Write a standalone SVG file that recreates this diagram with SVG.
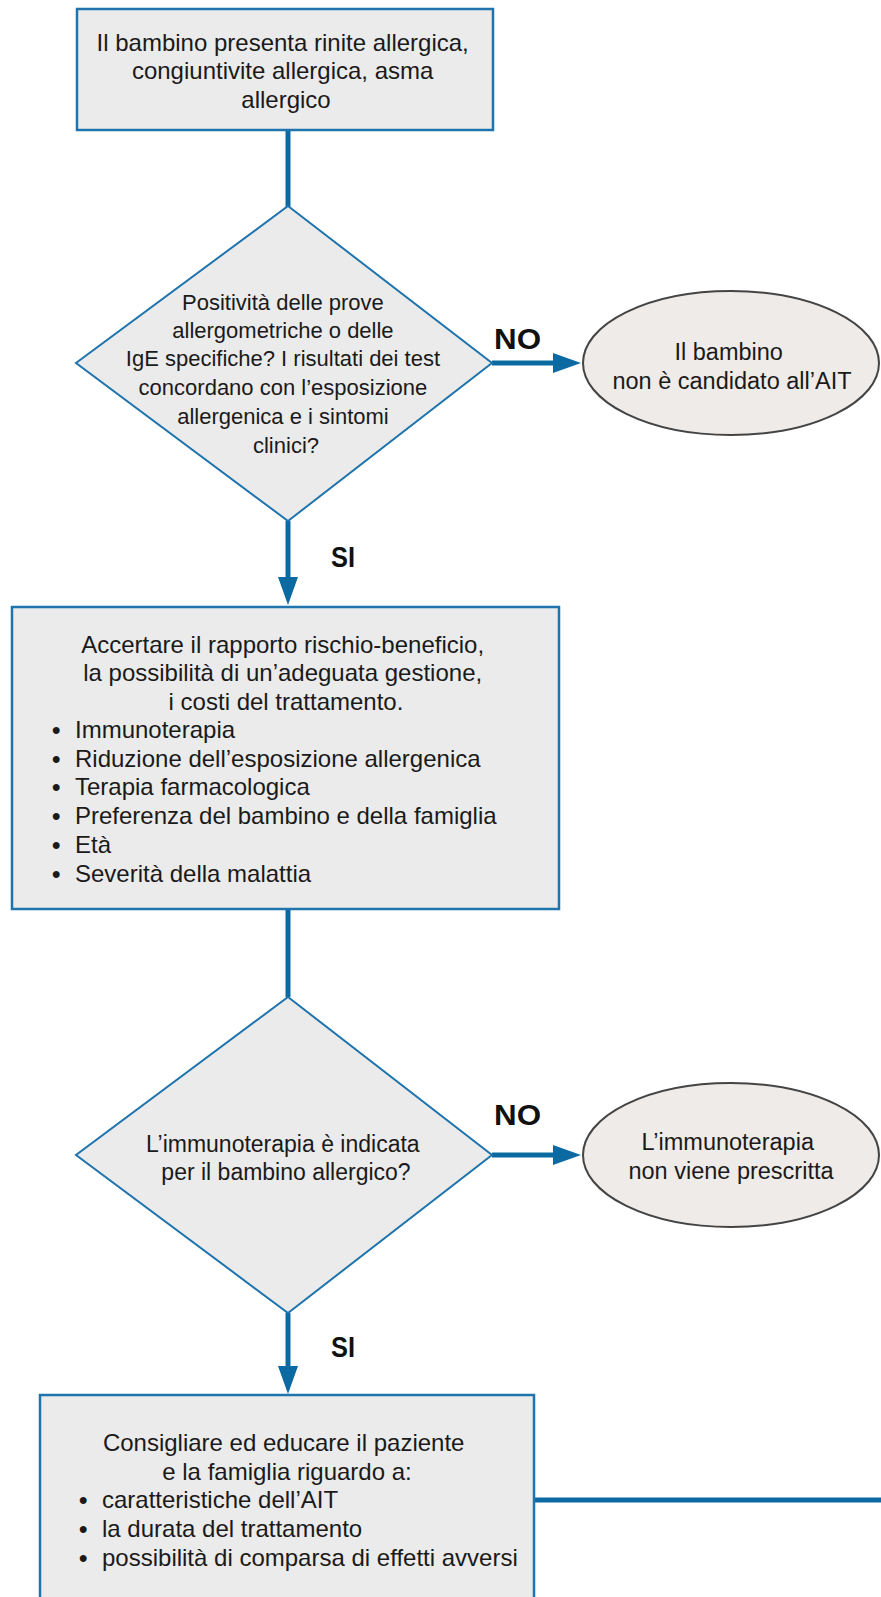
<svg xmlns="http://www.w3.org/2000/svg" width="881" height="1597" viewBox="0 0 881 1597">
<style>
  .box { fill: #ebebeb; stroke: #1f74ad; stroke-width: 2.5; }
  .dia { fill: #ebebeb; stroke: #1f74ad; stroke-width: 2; }
  .ell { fill: #efebe8; stroke: #444444; stroke-width: 2; }
  .txt { font-family: "Liberation Sans", Arial, sans-serif; fill: #1a1a1a; }
  .bul { font-weight: bold; }
  .lbl { font-family: "Liberation Sans", Arial, sans-serif; font-weight: bold; fill: #111111; font-size: 29px; }
  .con { fill: none; stroke: #0b6aa2; stroke-width: 5; }
</style>
<defs>
  <marker id="ah" markerUnits="userSpaceOnUse" markerWidth="28" markerHeight="20" refX="0" refY="10" orient="auto" viewBox="0 0 28 20">
    <path d="M0,0 L28,10 L0,20 Z" fill="#0b6aa2"/>
  </marker>
</defs>
<rect width="881" height="1597" fill="#ffffff"/>

<g id="connectors">
  <path class="con" d="M288,130 L288,207"/>
  <path class="con" d="M288,521 L288,577" marker-end="url(#ah)"/>
  <path class="con" d="M492,363 L553,363" marker-end="url(#ah)"/>
  <path class="con" d="M288,909 L288,997"/>
  <path class="con" d="M492,1155 L553,1155" marker-end="url(#ah)"/>
  <path class="con" d="M288,1313 L288,1366" marker-end="url(#ah)"/>
  <path class="con" d="M534,1500 L881,1500"/>
  <text class="lbl" x="494" y="349" textLength="47" lengthAdjust="spacingAndGlyphs">NO</text>
  <text class="lbl" x="331" y="567" textLength="24" lengthAdjust="spacingAndGlyphs">SI</text>
  <text class="lbl" x="494" y="1125" textLength="47" lengthAdjust="spacingAndGlyphs">NO</text>
  <text class="lbl" x="331" y="1357" textLength="24" lengthAdjust="spacingAndGlyphs">SI</text>
</g>

<g id="start">
  <rect class="box" x="77" y="9" width="416" height="121"/>
  <text class="txt" font-size="24" text-anchor="middle">
    <tspan x="286" y="51">Il bambino presenta rinite allergica,</tspan>
    <tspan x="286" y="79">congiuntivite allergica, asma</tspan>
    <tspan x="286" y="108">allergico</tspan>
  </text>
</g>

<g id="decision1">
  <polygon class="dia" points="288,206 492,363 288,521 76,363"/>
  <text class="txt" font-size="22" text-anchor="middle">
    <tspan x="286" y="310">Positività delle prove</tspan>
    <tspan x="286" y="338">allergometriche o delle</tspan>
    <tspan x="286" y="366">IgE specifiche? I risultati dei test</tspan>
    <tspan x="286" y="395">concordano con l’esposizione</tspan>
    <tspan x="286" y="424">allergenica e i sintomi</tspan>
    <tspan x="286" y="453">clinici?</tspan>
  </text>
</g>

<g id="end1">
  <ellipse class="ell" cx="731" cy="363" rx="148" ry="72"/>
  <text class="txt" font-size="23.5" text-anchor="middle">
    <tspan x="732" y="360">Il bambino</tspan>
    <tspan x="732" y="389">non è candidato all’AIT</tspan>
  </text>
</g>

<g id="assess">
  <rect class="box" x="12" y="607" width="547" height="302"/>
  <text class="txt" font-size="24" text-anchor="middle">
    <tspan x="286" y="653">Accertare il rapporto rischio-beneficio,</tspan>
    <tspan x="286" y="681">la possibilità di un’adeguata gestione,</tspan>
    <tspan x="286" y="710">i costi del trattamento.</tspan>
  </text>
  <text class="txt" font-size="24">
    <tspan class="bul" x="52" y="738">•</tspan><tspan x="75" y="738">Immunoterapia</tspan>
    <tspan class="bul" x="52" y="767">•</tspan><tspan x="75" y="767">Riduzione dell’esposizione allergenica</tspan>
    <tspan class="bul" x="52" y="795">•</tspan><tspan x="75" y="795">Terapia farmacologica</tspan>
    <tspan class="bul" x="52" y="824">•</tspan><tspan x="75" y="824">Preferenza del bambino e della famiglia</tspan>
    <tspan class="bul" x="52" y="853">•</tspan><tspan x="75" y="853">Età</tspan>
    <tspan class="bul" x="52" y="882">•</tspan><tspan x="75" y="882">Severità della malattia</tspan>
  </text>
</g>

<g id="decision2">
  <polygon class="dia" points="288,997 492,1155 288,1313 76,1155"/>
  <text class="txt" font-size="23" text-anchor="middle">
    <tspan x="286" y="1152">L’immunoterapia è indicata</tspan>
    <tspan x="286" y="1180">per il bambino allergico?</tspan>
  </text>
</g>

<g id="end2">
  <ellipse class="ell" cx="731" cy="1155" rx="148" ry="72"/>
  <text class="txt" font-size="23.5" text-anchor="middle">
    <tspan x="731" y="1150">L’immunoterapia</tspan>
    <tspan x="731" y="1179">non viene prescritta</tspan>
  </text>
</g>

<g id="educate">
  <rect class="box" x="40" y="1395" width="494" height="215"/>
  <text class="txt" font-size="24" text-anchor="middle">
    <tspan x="287" y="1451">Consigliare ed educare il paziente</tspan>
    <tspan x="287" y="1480">e la famiglia riguardo a:</tspan>
  </text>
  <text class="txt" font-size="24">
    <tspan class="bul" x="79" y="1508">•</tspan><tspan x="102" y="1508">caratteristiche dell’AIT</tspan>
    <tspan class="bul" x="79" y="1537">•</tspan><tspan x="102" y="1537">la durata del trattamento</tspan>
    <tspan class="bul" x="79" y="1566">•</tspan><tspan x="102" y="1566">possibilità di comparsa di effetti avversi</tspan>
  </text>
</g>
</svg>
